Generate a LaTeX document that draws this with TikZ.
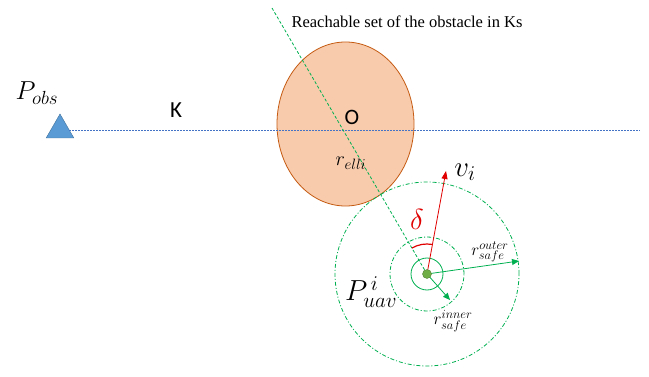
\documentclass[tikz,border=0pt]{standalone}
\usepackage{fix-cm}
\usepackage{fontspec}
\newfontfamily\calibrifont{Carlito}
\newfontfamily\timesfont{Liberation Serif}
\usetikzlibrary{shapes.geometric,arrows.meta}
\DeclareMathSizes{26}{26}{19}{14}
\DeclareMathSizes{29}{29}{21}{15}
\DeclareMathSizes{20}{20}{15}{11}
\DeclareMathSizes{17}{17}{12.5}{9}

\definecolor{obsblue}{HTML}{5B9BD5}
\definecolor{obsedge}{HTML}{41719C}
\definecolor{lineblue}{HTML}{4472C4}
\definecolor{ellifill}{HTML}{F8CBAD}
\definecolor{elliedge}{HTML}{C55A11}
\definecolor{safegreen}{HTML}{00B050}
\definecolor{dotgreen}{HTML}{70AD47}
\definecolor{dotedge}{HTML}{548235}
\definecolor{velred}{HTML}{E00000}

\tikzset{
  greenarrow/.style={safegreen, thick, -{Triangle[length=7pt,width=6pt]}},
  safering/.style={safegreen, thick, dash pattern=on 4pt off 2pt on 1pt off 2pt},
  mathlabel/.style={inner sep=0pt, font=\fontsize{26}{30}\selectfont},
  smalllabel/.style={inner sep=0pt, font=\fontsize{17}{20}\selectfont}
}

\begin{document}
\begin{tikzpicture}[x=1pt, y=-1pt]
  \useasboundingbox (0,0) rectangle (649,377);

  % Obstacle and its reachable set
  \node[regular polygon, regular polygon sides=3, minimum size=32, inner sep=0pt,
        fill=obsblue, draw=obsedge] (obs) at (60,130) {};
  \node[ellipse, minimum width=137, minimum height=164, inner sep=0pt,
        fill=ellifill, draw=elliedge, thick] (elli) at (345.5,124) {};
  \coordinate (kend) at (640,130);
  \coordinate (ltop) at (272,8);
  \coordinate (uav) at (427,274);

  % Line K and line of sight
  \draw[lineblue, dash pattern=on 2pt off 1pt] (obs) -- (kend);
  \draw[safegreen, thick, dash pattern=on 3pt off 2pt] (ltop) -- (uav);

  % Safety rings round the UAV
  \draw[safering] (uav) circle (92pt);
  \draw[safering] (uav) circle (37pt);
  \draw[safegreen, thick] (uav) circle (16pt);

  % Radii and velocity
  \coordinate (outertip) at (519,261);
  \coordinate (innertip) at (450,300);
  \coordinate (vtip) at (446,171);
  \draw[greenarrow] (uav) -- (outertip);
  \draw[greenarrow] (uav) -- (innertip);
  \draw[velred, thick, -{Triangle[length=8pt,width=6pt]}] (uav) -- (vtip);
  \draw[velred, very thick] (uav) ++(120:30pt) arc[start angle=120, end angle=80, radius=30pt];
  \node[circle, fill=dotgreen, draw=dotedge, minimum size=9, inner sep=0pt] (dot) at (uav) {};

  % Labels
  \node[mathlabel] (pobslbl) at (37,93) {$P_{obs}$};
  \node[inner sep=0pt, font=\calibrifont\fontsize{23}{27}\selectfont] (klbl) at (176,110) {K};
  \node[inner sep=0pt, font=\calibrifont\fontsize{22}{26}\selectfont] (olbl) at (352,117) {O};
  \node[inner sep=0pt, font=\timesfont\fontsize{16.5}{19}\selectfont] (title) at (407,22)
        {Reachable set of the obstacle in Ks};
  \node[inner sep=0pt, font=\fontsize{20}{24}\selectfont] (ellilbl) at (351,163) {$r_{elli}$};
  \node[mathlabel, velred, font=\fontsize{29}{33}\selectfont] (deltalbl) at (417,219) {$\delta$};
  \node[mathlabel, font=\fontsize{29}{33}\selectfont] (vlbl) at (465,172) {$v_i$};
  \node[smalllabel] (outerlbl) at (490,252) {$r_{safe}^{outer}$};
  \node[smalllabel] (innerlbl) at (453,321) {$r_{safe}^{inner}$};
  \node[mathlabel, font=\fontsize{29}{33}\selectfont] (uavlbl) at (371,292) {$P_{uav}^{\,i}$};
\end{tikzpicture}
\end{document}
